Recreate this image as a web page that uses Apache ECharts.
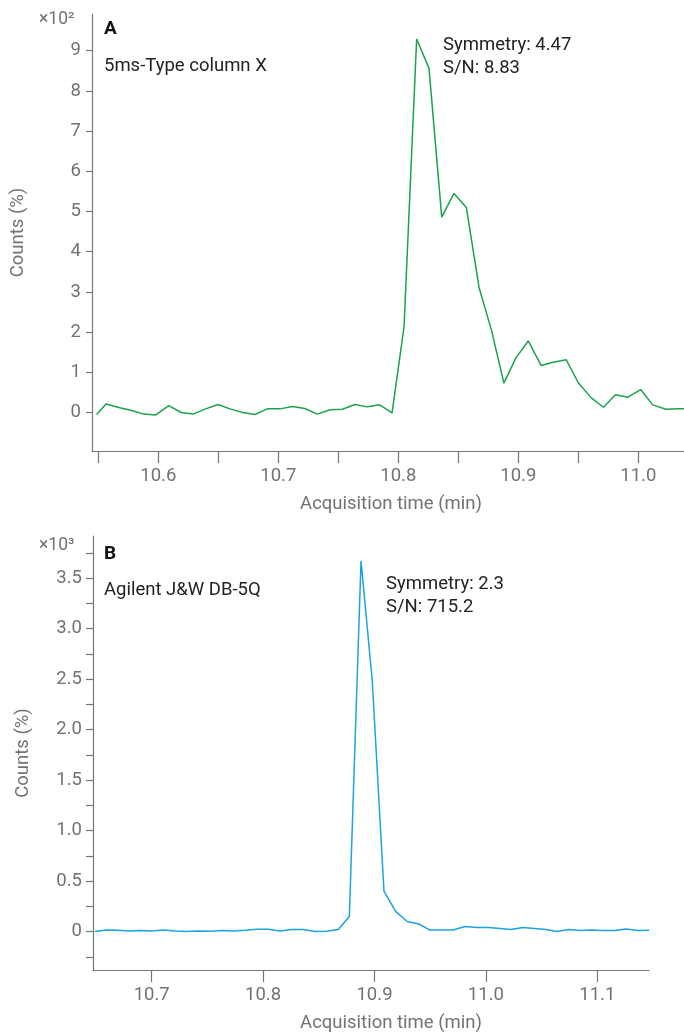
<!DOCTYPE html>
<html><head><meta charset="utf-8">
<script src="https://cdn.jsdelivr.net/npm/echarts@6/dist/echarts.min.js"></script>
<style>html,body{margin:0;padding:0;background:#fff}#c{width:684px;height:1034px}</style>
</head><body><div id="c"></div>
<script>
// Panel A: 5ms-Type column X (counts x10^2)
const timeA = [10.5486,10.5564,10.568,10.5778,10.588,10.598,10.6087,10.619,10.629,10.6395,
  10.6497,10.6598,10.6703,10.6806,10.6908,10.7014,10.7117,10.7222,10.7325,10.7431,
  10.7534,10.7639,10.7742,10.7845,10.7948,10.8048,10.8153,10.8256,10.8362,10.8464,
  10.8567,10.8673,10.8778,10.888,10.898,10.9083,10.919,10.929,10.94,10.95,
  10.9606,10.971,10.981,10.9914,11.002,11.012,11.023,11.033,11.0436];
const countsA = [-0.05,0.21,0.12,0.05,-0.04,-0.06,0.17,0.0,-0.04,0.09,
  0.2,0.09,0.0,-0.05,0.09,0.09,0.15,0.1,-0.04,0.07,
  0.08,0.2,0.14,0.19,-0.01,2.13,9.29,8.56,4.86,5.45,
  5.10,3.11,2.03,0.73,1.36,1.78,1.17,1.25,1.31,0.74,
  0.37,0.13,0.44,0.38,0.57,0.19,0.08,0.09,0.10];
// Panel B: Agilent J&W DB-5Q (counts x10^3)
const timeB = [10.6491,10.6592,10.6691,10.679,10.6895,10.7,10.7104,10.7209,10.7314,10.7418,
  10.7523,10.7628,10.7733,10.7838,10.7943,10.8047,10.8152,10.8257,10.8361,10.8466,
  10.8571,10.8675,10.8774,10.8879,10.898,10.9085,10.9189,10.9294,10.9397,10.9498,
  10.9603,10.9707,10.9812,10.9917,11.0022,11.0127,11.0225,11.033,11.0434,11.0537,
  11.0638,11.0743,11.0845,11.095,11.1054,11.1153,11.1258,11.1363,11.1467];
const countsB = [0.0,0.015,0.012,0.006,0.01,0.006,0.015,0.006,0.0,0.006,
  0.003,0.01,0.006,0.013,0.023,0.023,0.006,0.02,0.02,0.0,
  0.003,0.02,0.15,3.67,2.48,0.40,0.20,0.10,0.075,0.015,
  0.016,0.015,0.05,0.04,0.04,0.03,0.02,0.04,0.03,0.02,
  0.0,0.02,0.01,0.015,0.01,0.01,0.025,0.01,0.013];
// Ticks and labels
const xTicksA = [10.55,10.6,10.65,10.7,10.75,10.8,10.85,10.9,10.95,11.0];
const xLabelsA = [10.6,10.7,10.8,10.9,11.0];
const yTicksA = [0,1,2,3,4,5,6,7,8,9];
const xTicksB = [10.7,10.8,10.9,11.0,11.1];
const yTicksB = [-0.25,0,0.25,0.5,0.75,1,1.25,1.5,1.75,2,2.25,2.5,2.75,3,3.25,3.5,3.75];
const yLabelsB = [0,0.5,1,1.5,2,2.5,3,3.5];

const FONT = 'Roboto';
const GRAY = '#6f7277';
const AXC = '#74777c';
const FS = 18.5;

function xAxisCfg(gi, min, max, ticks, labels) {
  return {
    type: 'value', gridIndex: gi, min: min, max: max,
    name: 'Acquisition time (min)', nameLocation: 'middle', nameGap: 44,
    nameTextStyle: {fontFamily: FONT, fontSize: FS, color: GRAY, padding: gi === 1 ? [0,0,0,40] : [0,0,0,6]},
    axisLine: {show: true, onZero: false, lineStyle: {color: AXC, width: 1.2}},
    axisTick: {show: true, length: 12, customValues: ticks, lineStyle: {color: AXC, width: 1.2}},
    axisLabel: {customValues: labels, margin: 16, fontFamily: FONT, fontSize: FS, color: GRAY,
      formatter: v => Number(v).toFixed(1)},
    splitLine: {show: false}
  };
}
function yAxisCfg(gi, min, max, ticks, labels, fmt, tickLen, gap) {
  return {
    type: 'value', gridIndex: gi, min: min, max: max,
    name: 'Counts (%)', nameLocation: 'middle', nameGap: gap,
    nameTextStyle: {fontFamily: FONT, fontSize: FS, color: GRAY},
    axisLine: {show: true, onZero: false, lineStyle: {color: AXC, width: 1.2}},
    axisTick: {show: true, length: tickLen, customValues: ticks, lineStyle: {color: AXC, width: 1.2}},
    axisLabel: {customValues: labels, margin: 11, fontFamily: FONT, fontSize: FS, color: GRAY, formatter: fmt},
    splitLine: {show: false}
  };
}

const chart = echarts.init(document.getElementById('c'), null, {renderer: 'canvas'});
const txt = (left, top, text, opts) => ({type: 'text', left: left, top: top,
  style: Object.assign({text: text, fontFamily: FONT, fontSize: FS, fill: '#222'}, opts || {})});

chart.setOption({
  animation: false,
  backgroundColor: '#fff',
  grid: [
    {left: 92, top: 14, width: 592, height: 437},
    {left: 93, top: 536, width: 556, height: 437}
  ],
  xAxis: [
    xAxisCfg(0, 10.54475, 11.0381, xTicksA, xLabelsA),
    xAxisCfg(1, 10.6473, 11.1464, xTicksB, xTicksB)
  ],
  yAxis: [
    yAxisCfg(0, -0.958, 9.913, yTicksA, yTicksA, v => String(v), 6, 64),
    yAxisCfg(1, -0.3805, 3.916, yTicksB, yLabelsB, v => (v === 0 ? '0' : Number(v).toFixed(1)), 7, 60)
  ],
  series: [
    {type: 'line', xAxisIndex: 0, yAxisIndex: 0, data: timeA.map((t, i) => [t, countsA[i]]),
      showSymbol: false, clip: true, lineStyle: {color: '#1aa34a', width: 1.5}},
    {type: 'line', xAxisIndex: 1, yAxisIndex: 1, data: timeB.map((t, i) => [t, countsB[i]]),
      showSymbol: false, clip: true, lineStyle: {color: '#1ba3e0', width: 1.5}}
  ],
  graphic: [
    txt(39, 11, '×10²', {fill: GRAY, fontSize: 17.5}),
    txt(104, 20, 'A', {fontWeight: 'bold', fontSize: 19, fill: '#111'}),
    txt(104, 57, '5ms-Type column X'),
    txt(443, 36, 'Symmetry: 4.47'),
    txt(443, 59, 'S/N: 8.83'),
    txt(39, 537, '×10³', {fill: GRAY, fontSize: 17.5}),
    txt(104, 545, 'B', {fontWeight: 'bold', fontSize: 19, fill: '#111'}),
    txt(104, 581, 'Agilent J&W DB-5Q'),
    txt(386, 575, 'Symmetry: 2.3'),
    txt(386, 598, 'S/N: 715.2')
  ]
});
</script>
</body></html>
